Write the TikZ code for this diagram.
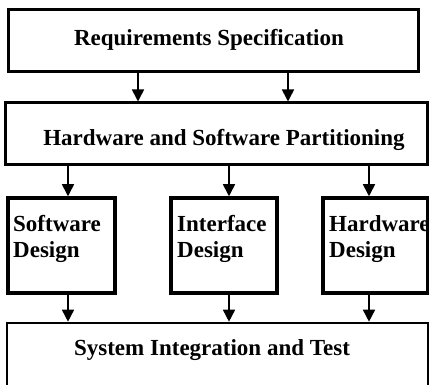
\documentclass[tikz,border=0pt]{standalone}
\usepackage{fontspec}
\setmainfont{Liberation Serif}
\usetikzlibrary{arrows.meta}
\tikzset{
  box/.style={draw, line width=3pt, fill=white, inner sep=0pt, rectangle},
  label/.style={font=\fontsize{23}{26}\selectfont\bfseries, inner sep=0pt},
  arr/.style={line width=1.6pt, -{Triangle[length=12pt,width=12pt]}},
}
\begin{document}
\begin{tikzpicture}[x=1pt,y=-1pt]
\useasboundingbox (0,0) rectangle (429,385);

% top stage
\node[box, minimum width=410pt, minimum height=62pt] (req) at (213,41) {};
\node[label] (reqt) at (209,40) {Requirements Specification};

\node[box, minimum width=422pt, minimum height=62pt] (part) at (216,134) {};
\node[label] (partt) at (224,140) {Hardware and Software Partitioning};

% design stage
\node[box, line width=3.5pt, minimum width=107pt, minimum height=95pt] (sw) at (61.5,245.5) {};
\node[box, line width=3.5pt, minimum width=106pt, minimum height=95pt] (if) at (224,245.5) {};
\node[box, line width=3.5pt, minimum width=105pt, minimum height=95pt] (hw) at (375.5,245.5) {};
\node[label, anchor=base west] (swt) at (13,232)
  {\begin{tabular}[t]{@{}l@{}}Software\\Design\end{tabular}};
\node[label, anchor=base west] (ift) at (177,232)
  {\begin{tabular}[t]{@{}l@{}}Interface\\Design\end{tabular}};
\node[label, anchor=base west] (hwt) at (329,232)
  {\begin{tabular}[t]{@{}l@{}}Hardware\\Design\end{tabular}};

% integration stage
\node[box, line width=2.6pt, minimum width=421pt, minimum height=80pt] (sys) at (217.5,363) {};
\node[label, anchor=base] (syst) at (212,355) {System Integration and Test};

% connector positions
\coordinate (c1) at (138,0);
\coordinate (c2) at (288,0);
\coordinate (d1) at (68,0);
\coordinate (d2) at (229,0);
\coordinate (d3) at (369,0);

\draw[arr] (req.south -| c1) -- (part.north -| c1);
\draw[arr] (req.south -| c2) -- (part.north -| c2);

\draw[arr] (part.south -| d1) -- (sw.north -| d1);
\draw[arr] (part.south -| d2) -- (if.north -| d2);
\draw[arr] (part.south -| d3) -- (hw.north -| d3);

\draw[arr] (sw.south -| d1) -- (sys.north -| d1);
\draw[arr] (if.south -| d2) -- (sys.north -| d2);
\draw[arr] (hw.south -| d3) -- (sys.north -| d3);
\end{tikzpicture}
\end{document}
